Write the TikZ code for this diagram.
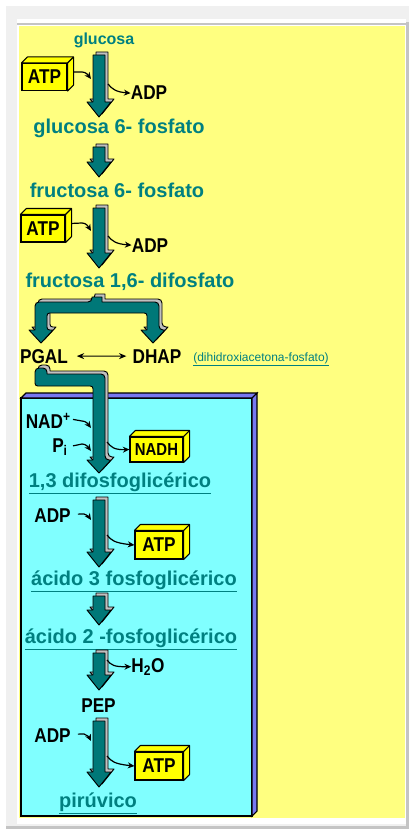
\documentclass[tikz,border=0pt]{standalone}
\usepackage{fontspec}
\setmainfont{Liberation Sans}
\newfontfamily\etiqueta[FakeStretch=0.86]{Liberation Sans}
\usetikzlibrary{arrows.meta, calc}
\definecolor{fondoamarillo}{HTML}{FFFF80}
\definecolor{celeste}{HTML}{80FFFF}
\definecolor{lila}{HTML}{7878F0}
\definecolor{verdeazul}{HTML}{008080}
\definecolor{petroleo}{HTML}{007878}
\definecolor{bisel}{HTML}{C0C0C0}
\definecolor{amarillo}{HTML}{FFFF00}
\definecolor{marco}{HTML}{C4C4C4}
\definecolor{grisclaro}{HTML}{F0F0F0}

\begin{document}
\begin{tikzpicture}[x=0.75pt, y=-0.75pt,
  met/.style={text=verdeazul, font=\fontsize{15}{17}\selectfont\bfseries, inner sep=0pt, anchor=base},
  lbl/.style={font=\etiqueta\fontsize{15}{17}\selectfont\bfseries, inner sep=0pt, anchor=base},
  caja/.style={draw, line width=0.8pt, fill=amarillo, inner sep=0pt, font=\etiqueta\fontsize{15}{17}\selectfont\bfseries},
  cara/.style={draw, line width=0.8pt, fill=amarillo, line join=round},
  cinta/.style={draw=black, line width=0.7pt, line join=round},
  reac/.style={-{Stealth[length=5pt, width=4.5pt]}, line width=0.9pt},
  doble/.style={{Stealth[length=5.5pt, width=4.5pt]}-{Stealth[length=5.5pt, width=4.5pt]}, line width=0.9pt},
  pics/flecha/.style={code={
    \foreach \dx/\dy/\c in {3/-3/bisel, 0/0/petroleo}
      \filldraw[cinta, fill=\c, shift={(\dx,\dy)}] (-6,0) -- (6,0) -- (6,#1-15) -- (12,#1-15)
        -- (0,#1) -- (-12,#1-15) -- (-6,#1-15) -- cycle;
  }},
]
\useasboundingbox (0,0) rectangle (412,831);

% ===== marco de la ventana =====
\fill[grisclaro] (6,6) rectangle (409,829);
\fill[white] (17,19) rectangle (406,824);
\fill[marco] (17,23) rectangle (406,25);
\fill[marco] (406,22) rectangle (409,826);
\fill[marco] (6,826) rectangle (409,829);
\fill[fondoamarillo] (19,26) rectangle (405,818);

% ===== glucosa -> glucosa 6-fosfato =====
\node[met, font=\fontsize{12}{14}\selectfont\bfseries] (glc) at (104,45) {glucosa};
\pic at (99,55) {flecha=62};
\node[caja, minimum width=33.75pt, minimum height=20.25pt] (atp1) at (44.5,77) {ATP};
\node[lbl] (adp1) at (149,100) {ADP};
\node[met] (g6p) at (119,134) {glucosa 6- fosfato};
\coordinate (s1) at (108,84);
\draw[reac] ([shift={(5,-5)}]atp1.east) -- (82,72) .. controls (86,72) and (88,75) .. (91,79);
\draw[reac] (s1) .. controls (112,89) and (116,92) .. (adp1.west);

% ===== fructosa 6-fosfato =====
\pic at (99,147) {flecha=30};
\node[met] (f6p) at (117,197) {fructosa 6- fosfato};

% ===== fructosa 1,6-difosfato =====
\pic at (99,208) {flecha=60};
\node[caja, minimum width=33pt, minimum height=20.25pt] (atp2) at (43,228.5) {ATP};
\node[lbl] (adp2) at (150,252) {ADP};
\node[met] (f16) at (130,287) {fructosa 1,6- difosfato};
\coordinate (s2) at (108,236);
\draw[reac] ([shift={(5,-5)}]atp2.east) -- (82,223) .. controls (86,223) and (88,226) .. (91,231);
\draw[reac] (s2) .. controls (112,241) and (116,244) .. (adp2.west);

% ===== horquilla hacia PGAL y DHAP =====
\foreach \dx/\dy/\c in {3/-3/bisel, 0/0/petroleo}
  \filldraw[cinta, fill=\c, shift={(\dx,\dy)}]
    (41,343) -- (29,330) -- (35,330) [rounded corners=3pt] -- (35,302) -- (92,302)
    [sharp corners] -- (92,297) -- (102,297) -- (102,302)
    [rounded corners=3pt] -- (159,302) -- (159,330)
    [sharp corners] -- (165,330) -- (153,343) -- (141,330) -- (147,330)
    [rounded corners=2pt] -- (147,313) -- (47,313) -- (47,330)
    [sharp corners] -- (53,330) -- cycle;

\node[lbl] (pgal) at (44,363) {PGAL};
\node[lbl] (dhap) at (157,363) {DHAP};
\node[text=verdeazul, font=\fontsize{9}{10}\selectfont, inner sep=0pt, anchor=base] (dha) at (261,361)
  {\underline{(dihidroxiacetona-fosfato)}};
\draw[doble, shorten <=6.5pt, shorten >=4.5pt] (pgal.east) -- (dhap.west);

% ===== caja celeste =====
\filldraw[draw=black, line width=0.8pt, fill=celeste] (21,398) rectangle (252,816);
\filldraw[draw=black, line width=0.8pt, fill=lila] (21,398) -- (26,393) -- (257,393) -- (252,398) -- cycle;
\filldraw[draw=black, line width=0.8pt, fill=lila] (252,398) -- (257,393) -- (257,811) -- (252,816) -- cycle;

% ===== PGAL -> 1,3 difosfoglicerico =====
\foreach \dx/\dy/\c in {3/-3/bisel, 0/0/petroleo}
  \filldraw[cinta, fill=\c, shift={(\dx,\dy)}]
    (35,386) [rounded corners=3pt] -- (35,368) -- (47,368)
    [sharp corners] -- (47,374) [rounded corners=3pt] -- (105,374) -- (105,460)
    [sharp corners] -- (111,460) -- (99,473) -- (87,460) -- (93,460)
    [rounded corners=2pt] -- (93,386) -- cycle;

\node[lbl, anchor=base east] (nad) at (71,428) {NAD\textsuperscript{+}};
\node[lbl] (pi) at (60,452) {P\textsubscript{i}};
\node[caja, minimum width=39.75pt, minimum height=18.75pt, font=\etiqueta\fontsize{13}{15}\selectfont\bfseries] (nadh) at (156.5,449.5) {NADH};
\node[met] (bpg) at (120,487) {\underline{1,3 difosfoglicérico}};
\coordinate (s4) at (107,442);
\draw[reac] ([shift={(2,-1)}]nad.east) -- (82,421) .. controls (86,421) and (88,424) .. (91,428);
\draw[reac] ([shift={(5,-1)}]pi.east) -- (82,444) .. controls (86,444) and (88,447) .. (91,451);
\draw[reac] (s4) .. controls (111,447) and (114,450) .. (nadh.west);

% ===== acido 3 fosfoglicerico =====
\pic at (99,500) {flecha=67};
\node[lbl] (adp3) at (52.5,522) {ADP};
\node[caja, minimum width=36pt, minimum height=21pt] (atp3) at (159,545) {ATP};
\node[met] (pga3) at (134,585) {\underline{ácido 3 fosfoglicérico}};
\coordinate (s5) at (107,535);
\draw[reac] ([shift={(7,-1)}]adp3.east) -- (84,514) .. controls (87,515) and (89,517) .. (91,520);
\draw[reac] (s5) .. controls (111,540) and (114,543) .. (atp3.west);

% ===== acido 2 fosfoglicerico =====
\pic at (99,596) {flecha=29};
\node[met] (pga2) at (131,643) {\underline{ácido 2 -fosfoglicérico}};

% ===== PEP =====
\pic at (99,653) {flecha=37};
\node[lbl] (h2o) at (148,672) {H\textsubscript{2}O};
\node[lbl] (pep) at (98.5,712) {PEP};
\coordinate (s7) at (107,660);
\draw[reac] (s7) .. controls (111,665) and (114,667) .. (h2o.west);

% ===== piruvico =====
\pic at (99,721) {flecha=66};
\node[lbl] (adp4) at (52.5,742) {ADP};
\node[caja, minimum width=36pt, minimum height=21pt] (atp4) at (159,766) {ATP};
\node[met] (pir) at (98,807) {\underline{pirúvico}};
\coordinate (s8) at (107,756);
\draw[reac] ([shift={(7,-1)}]adp4.east) -- (84,734) .. controls (87,735) and (89,737) .. (91,741);
\draw[reac] (s8) .. controls (111,761) and (114,764) .. (atp4.west);

% ===== caras 3D de las cajas =====
\foreach \b in {atp1, atp2, nadh, atp3, atp4} {
  \filldraw[cara] (\b.north west) -- ++(6,-6) -- ([shift={(6,-6)}]\b.north east)
    -- ([shift={(6,-6)}]\b.south east) -- (\b.south east) -- (\b.north east) -- cycle;
  \draw[line width=0.8pt] (\b.north east) -- ++(6,-6);
}
\end{tikzpicture}
\end{document}
